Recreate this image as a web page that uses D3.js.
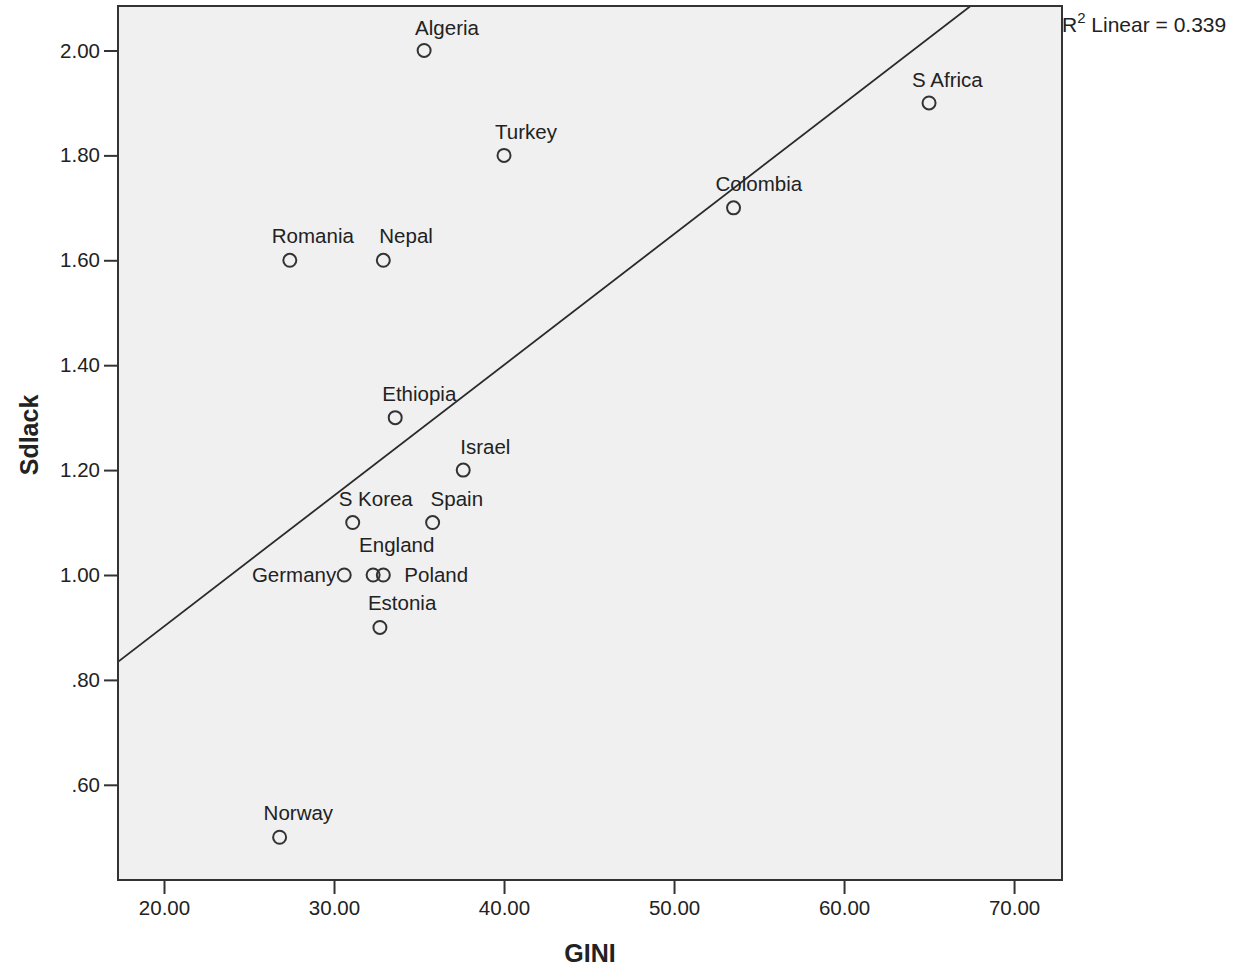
<!DOCTYPE html>
<html>
<head>
<meta charset="utf-8">
<script src="https://cdn.jsdelivr.net/npm/d3@7"></script>
<style>
  html, body { margin: 0; padding: 0; background: #ffffff; }
  svg { display: block; font-family: "Liberation Sans", Arial, sans-serif; }
</style>
</head>
<body>
<svg id="chart" width="1236" height="967"></svg>
<script>
// ---- Data ----
const countries = ["Algeria","Turkey","S Africa","Colombia","Romania","Nepal","Ethiopia","Israel","S Korea","Spain","Germany","England","Poland","Estonia","Norway"];
const gini      = [35.3, 40.0, 65.0, 53.5, 27.4, 32.9, 33.6, 37.6, 31.1, 35.8, 30.6, 32.3, 32.9, 32.7, 26.8];
const sdlack    = [2.0, 1.8, 1.9, 1.7, 1.6, 1.6, 1.3, 1.2, 1.1, 1.1, 1.0, 1.0, 1.0, 0.9, 0.5];
const xTicks = [20, 30, 40, 50, 60, 70];
const yTicks = [0.6, 0.8, 1.0, 1.2, 1.4, 1.6, 1.8, 2.0];
const xTitle = "GINI";
const yTitle = "Sdlack";
const r2Text = "0.339";

// ---- Layout (label placement relative to each point) ----
const labelLayout = {
  "Algeria":  [-9, -15, "start"],
  "Turkey":   [-9, -16, "start"],
  "S Africa": [-17, -16, "start"],
  "Colombia": [-18, -17, "start"],
  "Romania":  [-18, -17, "start"],
  "Nepal":    [-4, -17, "start"],
  "Ethiopia": [-13, -17, "start"],
  "Israel":   [-3, -16, "start"],
  "S Korea":  [-14, -17, "start"],
  "Spain":    [-2, -17, "start"],
  "Germany":  [-8, 7, "end"],
  "England":  [-14, -23, "start"],
  "Poland":   [21, 7, "start"],
  "Estonia":  [-12, -17, "start"],
  "Norway":   [-16, -17, "start"]
};

const svg = d3.select("#chart");
const L = 118, R = 1062, T = 6, B = 880;
const FS = 20.5;

const x = d3.scaleLinear().domain([17.294, 72.82]).range([L, R]);
const y = d3.scaleLinear().domain([0.4185, 2.0848]).range([B, T]);

svg.append("rect").attr("x", L).attr("y", T).attr("width", R - L).attr("height", B - T)
  .attr("fill", "#f0f0f0");

svg.append("clipPath").attr("id", "clip").append("rect")
  .attr("x", L).attr("y", T).attr("width", R - L).attr("height", B - T);

// regression (least squares from the data)
const mx = d3.mean(gini), my = d3.mean(sdlack);
let sxy = 0, sxx = 0;
for (let i = 0; i < gini.length; i++) {
  sxy += (gini[i] - mx) * (sdlack[i] - my);
  sxx += (gini[i] - mx) ** 2;
}
const slope = sxy / sxx, icpt = my - slope * mx;
const xd = x.domain();
svg.append("line")
  .attr("clip-path", "url(#clip)")
  .attr("x1", x(xd[0])).attr("y1", y(icpt + slope * xd[0]))
  .attr("x2", x(xd[1])).attr("y2", y(icpt + slope * xd[1]))
  .attr("stroke", "#2a2a2a").attr("stroke-width", 1.8);

// axes
const fmt = v => d3.format(".2f")(v).replace(/^0\./, ".");
const xAxis = svg.append("g").attr("transform", `translate(0,${B})`)
  .call(d3.axisBottom(x).tickValues(xTicks).tickFormat(fmt).tickSize(14).tickSizeOuter(0).tickPadding(6));
const yAxis = svg.append("g").attr("transform", `translate(${L},0)`)
  .call(d3.axisLeft(y).tickValues(yTicks).tickFormat(fmt).tickSize(14).tickSizeOuter(0).tickPadding(4));
[xAxis, yAxis].forEach(g => {
  g.select(".domain").remove();
  g.selectAll(".tick line").attr("stroke", "#333").attr("stroke-width", 2);
  g.selectAll(".tick text").attr("font-size", FS).attr("fill", "#222")
    .attr("font-family", "Liberation Sans, Arial, sans-serif");
});

svg.append("rect").attr("x", L).attr("y", T).attr("width", R - L).attr("height", B - T)
  .attr("fill", "none").attr("stroke", "#333").attr("stroke-width", 2);

// points
const data = countries.map((c, i) => ({ c, gx: gini[i], sy: sdlack[i] }));
svg.append("g").selectAll("circle").data(data).join("circle")
  .attr("cx", d => x(d.gx)).attr("cy", d => y(d.sy)).attr("r", 6.5)
  .attr("fill", "none").attr("stroke", "#333").attr("stroke-width", 2);

svg.append("g").selectAll("text").data(data).join("text")
  .attr("x", d => x(d.gx) + labelLayout[d.c][0])
  .attr("y", d => y(d.sy) + labelLayout[d.c][1])
  .attr("text-anchor", d => labelLayout[d.c][2])
  .attr("font-size", FS).attr("fill", "#222")
  .text(d => d.c);

// R2 label
const rt = svg.append("text").attr("x", R).attr("y", 32).attr("font-size", 21).attr("fill", "#222");
rt.append("tspan").text("R");
rt.append("tspan").attr("font-size", 15).attr("dy", -9).text("2");
rt.append("tspan").attr("dy", 9).text(" Linear = " + r2Text);

// axis titles
svg.append("text").attr("x", (L + R) / 2).attr("y", 962).attr("text-anchor", "middle")
  .attr("font-size", 25).attr("font-weight", "bold").attr("fill", "#222").text(xTitle);
svg.append("text").attr("transform", `translate(38,${(T + B) / 2 - 8})rotate(-90)`)
  .attr("text-anchor", "middle")
  .attr("font-size", 25).attr("font-weight", "bold").attr("fill", "#222").text(yTitle);
</script>
</body>
</html>
